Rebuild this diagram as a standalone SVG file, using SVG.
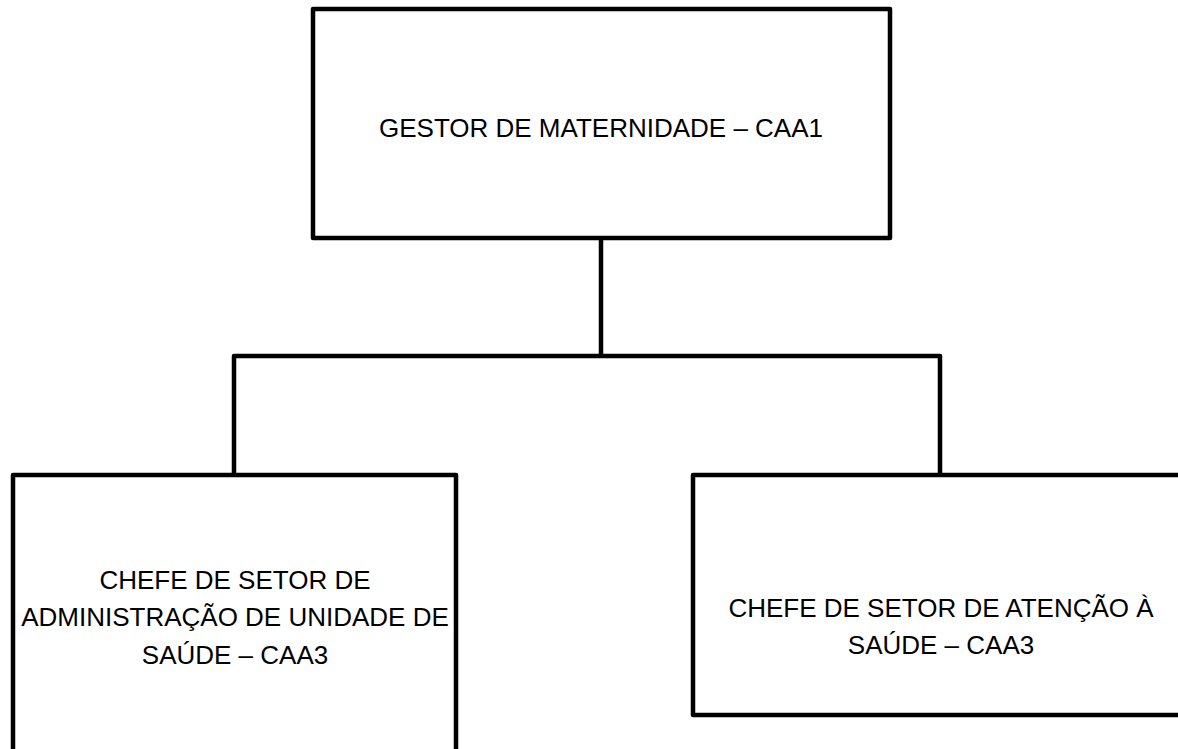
<svg xmlns="http://www.w3.org/2000/svg" width="1178" height="749" viewBox="0 0 1178 749">
<style>
.box{fill:#fff;stroke:#000;stroke-width:4.5;stroke-linejoin:round}
.conn{fill:none;stroke:#000;stroke-width:4.5;stroke-linejoin:round}
text{font-family:"Liberation Sans",Arial,sans-serif;font-size:26px;fill:#000;text-anchor:middle}
</style>
<rect width="1178" height="749" fill="#fff"/>
<g id="connectors">
<path class="conn" d="M601,238 V356 M234,475 V356 H940 V475"/>
</g>
<g id="gestor">
<rect class="box" x="313" y="9" width="577" height="229"/>
<text x="601" y="137">GESTOR DE MATERNIDADE – CAA1</text>
</g>
<g id="chefe-admin">
<rect class="box" x="13" y="475" width="443" height="290"/>
<text x="235" y="589">CHEFE DE SETOR DE</text>
<text x="235" y="626">ADMINISTRAÇÃO DE UNIDADE DE</text>
<text x="235" y="664">SAÚDE – CAA3</text>
</g>
<g id="chefe-atencao">
<rect class="box" x="693" y="475" width="500" height="240"/>
<text x="941" y="617">CHEFE DE SETOR DE ATENÇÃO À</text>
<text x="941" y="654">SAÚDE – CAA3</text>
</g>
</svg>
